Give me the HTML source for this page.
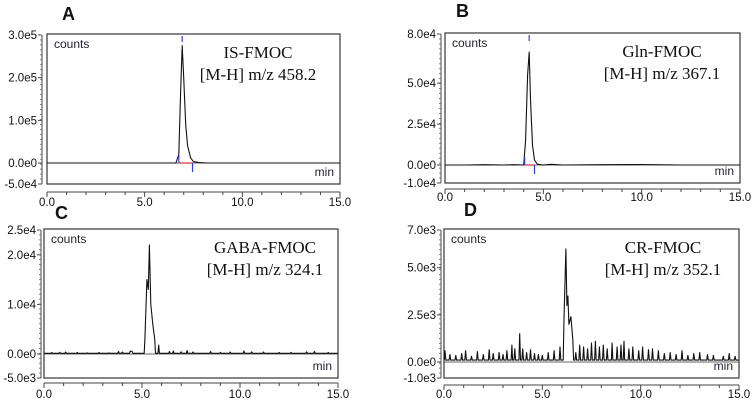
<!DOCTYPE html>
<html><head><meta charset="utf-8">
<style>
html,body{margin:0;padding:0;background:#fff;}
svg{display:block;font-family:"Liberation Sans",Arial,sans-serif;}
.tl{font-size:11.5px;fill:#111;}
.ser{font-family:"Liberation Serif",serif;font-size:17px;fill:#111;}
</style></head>
<body>
<svg id="chart" width="752" height="403" viewBox="0 0 752 403"></svg>
<script>
// Panel A data (IS-FMOC)
const timesA = [0,1,2,3,4,5,6,6.6,6.75,6.85,6.92,7.0,7.1,7.2,7.35,7.5,7.8,8.2,9,10,11,12,13,14,15];
const valuesA = [0,0,0,0,0,0,0,0,20000,180000,275000,200000,90000,40000,12000,3000,1000,0,0,0,0,0,0,0,0];
// Panel B data (Gln-FMOC)
const timesB = [0,1,2,3,3.5,4.0,4.1,4.2,4.28,4.35,4.45,4.55,4.7,5,5.4,6,8,10,12,14,15];
const valuesB = [0,0,200,0,200,0,15000,55000,69000,40000,12000,3000,500,0,400,0,200,300,0,0,0];
// Panel C data (GABA-FMOC): spikes over a baseline
const baseC = 150;
const spikeTimesC = [0.4,0.8,1.1,1.7,2.2,2.8,3.3,3.8,4.0,4.4,4.5,5.15,5.25,5.32,5.38,5.45,5.55,5.65,5.85,6.4,6.6,7.0,7.3,7.6,8.5,9.0,9.5,10.2,10.6,11.2,12.0,12.6,13.4,13.8,14.5];
const spikeHeightsC = [300,350,400,300,250,300,250,500,400,600,500,3000,15000,13000,22000,10000,6000,3000,1800,500,600,450,700,400,500,350,400,600,450,400,300,350,450,500,300];
// Panel D data (CR-FMOC): spikes over a baseline
const baseD = 100;
const spikeTimesD = [0.05,0.3,0.6,0.9,1.1,1.4,1.7,2.0,2.3,2.5,2.8,3.0,3.2,3.45,3.6,3.85,4.0,4.2,4.4,4.6,4.8,5.0,5.3,5.6,5.9,6.1,6.2,6.25,6.3,6.35,6.45,6.55,6.7,6.9,7.1,7.3,7.5,7.7,7.9,8.1,8.3,8.55,8.8,9.0,9.15,9.4,9.6,9.9,10.1,10.4,10.6,10.9,11.2,11.5,11.8,12.1,12.4,12.7,13.0,13.4,13.7,14.2,14.5,14.8];
const spikeHeightsD = [600,400,350,450,600,300,550,400,650,450,500,400,600,900,700,1500,700,500,650,450,400,350,500,600,800,2300,6000,3000,3500,2000,2400,1200,500,900,800,700,1000,1100,800,900,700,1000,800,900,1100,700,800,600,800,650,700,600,450,500,400,600,350,450,500,400,350,300,450,300];

const panels = [
 {id:'a',letter:'A',lx:62,ly:20,L:47,R:340,T:34,B:184,ymax:300000,zero:163,ticks:[300000,200000,100000,0,-50000],tlab:['3.0e5','2.0e5','1.0e5','0.0e0','-5.0e4'],axX:42,axY:192,labY:206,title:['IS-FMOC','[M-H] m/z 458.2'],tx:258,t:timesA,v:valuesA,markers:[6.75,7.1,7.45],peakT:6.92},
 {id:'b',letter:'B',lx:456,ly:17,L:445,R:740,T:33,B:183,ymax:80000,zero:165,ticks:[80000,50000,25000,0,-10000],tlab:['8.0e4','5.0e4','2.5e4','0.0e0','-1.0e4'],axX:441,axY:189,labY:201,title:['Gln-FMOC','[M-H] m/z 367.1'],tx:662,t:timesB,v:valuesB,markers:[4.05,4.25,4.55],peakT:4.28},
 {id:'c',letter:'C',lx:55,ly:219,L:44,R:338,T:229,B:378,ymax:25000,zero:354,ticks:[25000,20000,10000,0,-5000],tlab:['2.5e4','2.0e4','1.0e4','0.0e0','-5.0e3'],axX:41,axY:383,labY:398,title:['GABA-FMOC','[M-H] m/z 324.1'],tx:265,base:baseC,st:spikeTimesC,sh:spikeHeightsC},
 {id:'d',letter:'D',lx:464,ly:216,L:444,R:739,T:229,B:378,ymax:7000,zero:362,ticks:[7000,5000,2500,0,-1000],tlab:['7.0e3','5.0e3','2.5e3','0.0e0','-1.0e3'],axX:441,axY:385,labY:398,title:['CR-FMOC','[M-H] m/z 352.1'],tx:663,base:baseD,st:spikeTimesD,sh:spikeHeightsD}
];
const svg = document.getElementById('chart');
const NS='http://www.w3.org/2000/svg';
function mk(tag,attrs,parent){const e=document.createElementNS(NS,tag);for(const k in attrs)e.setAttribute(k,attrs[k]);(parent||svg).appendChild(e);return e;}

panels.forEach(p=>{
  const g=mk('g',{});
  
  
  const topTickY = p.T+1;
  const yScale = v => p.zero + (v/p.ymax)*(topTickY - p.zero);
  const xScale = t => p.L + (t/15)*(p.R-p.L);
  const lt=mk('text',{x:p.lx,y:p.ly,'font-size':'18','font-weight':'bold',fill:'#111'},g);
  lt.textContent=p.letter;
  
  
  const box=mk('rect',{x:p.L,y:p.T,width:p.R-p.L,height:p.B-p.T,fill:'none',stroke:'#444','stroke-width':1.3},g);
  
  
  mk('line',{x1:p.L,x2:p.R,y1:p.zero,y2:p.zero,stroke:'#666','stroke-width':1},g);
  const ya=mk('g',{},g);
  
  
  mk('line',{x1:p.axX,x2:p.axX,y1:topTickY,y2:p.B,stroke:'#444','stroke-width':1},ya);
  p.ticks.forEach((tv,i)=>{
    const y = i===p.ticks.length-1 ? p.B : yScale(tv);
    mk('line',{x1:p.axX-4,x2:p.axX,y1:y,y2:y,stroke:'#444'},ya);
    const tx=mk('text',{x:p.axX-5,y:y+4,'text-anchor':'end',class:'tl'},ya);
    tx.textContent=p.tlab[i];
    
    
  });
  for(let y=topTickY;y<p.B;y+=(p.B-topTickY)/30){mk('line',{x1:p.axX-2,x2:p.axX,y1:y,y2:y,stroke:'#666','stroke-width':0.8},ya);}
  const xa=mk('g',{},g);
  
  
  mk('line',{x1:p.L,x2:p.R,y1:p.axY,y2:p.axY,stroke:'#444'},xa);
  for(let t=0;t<=15;t++){const x=xScale(t);const major=t%5===0;mk('line',{x1:x,x2:x,y1:p.axY,y2:p.axY+(major?5:3),stroke:'#444'},xa);}
  ['0.0','5.0','10.0','15.0'].forEach((s,i)=>{
    const tx=mk('text',{x:xScale(i*5),y:p.labY,'text-anchor':'middle',class:'tl','font-size':'12.5'},xa);
    tx.textContent=s;
    
    
  });
  const c=mk('text',{x:p.L+7,y:p.T+14,'font-size':'12',fill:'#223'},g);c.textContent='counts';
  
  
  const m=mk('text',{x:p.R-6,y:p.B-8,'font-size':'12','text-anchor':'end',fill:'#223'},g);m.textContent='min';
  
  
  p.title.forEach((s,i)=>{const t=mk('text',{x:p.tx,y:p.T+24+i*22,'text-anchor':'middle',class:'ser'},g);t.textContent=s;
    
    });
  let d;
  if(p.t){
    d=p.t.map((t,i)=>(i?'L':'M')+xScale(t).toFixed(1)+','+yScale(p.v[i]).toFixed(1)).join(' ');
  } else {
    const pts=[[0,p.base]];
    const n=p.st.length;
    p.st.forEach((t,i)=>{
      const prevClose = i>0 && t-p.st[i-1]<0.12;
      const nextClose = i<n-1 && p.st[i+1]-t<0.12;
      if(!prevClose) pts.push([t-0.04,p.base]);
      pts.push([t,p.sh[i]]);
      if(!nextClose) pts.push([t+0.04,p.base]);
    });
    pts.push([15,p.base]);
    d=pts.map((q,i)=>(i?'L':'M')+xScale(q[0]).toFixed(1)+','+yScale(q[1]).toFixed(1)).join(' ');
  }
  const path=mk('path',{d:d,fill:'none',stroke:'#111','stroke-width':1.1,'stroke-linejoin':'round'},g);
  
  
  if(p.markers){
    const [s,pk,e]=p.markers;
    mk('line',{x1:xScale(s),x2:xScale(e),y1:p.zero,y2:p.zero,stroke:'#e03030','stroke-width':1.2},g);
    mk('line',{x1:xScale(s),x2:xScale(s),y1:p.zero-8,y2:p.zero,stroke:'#3040e0','stroke-width':1.2},g);
    mk('line',{x1:xScale(e),x2:xScale(e),y1:p.zero,y2:p.zero+9,stroke:'#3040e0','stroke-width':1.2},g);
    mk('line',{x1:xScale(p.peakT),x2:xScale(p.peakT),y1:p.T+2,y2:p.T+8,stroke:'#3040e0','stroke-width':1.2},g);
  }
});
</script>
</body></html>
